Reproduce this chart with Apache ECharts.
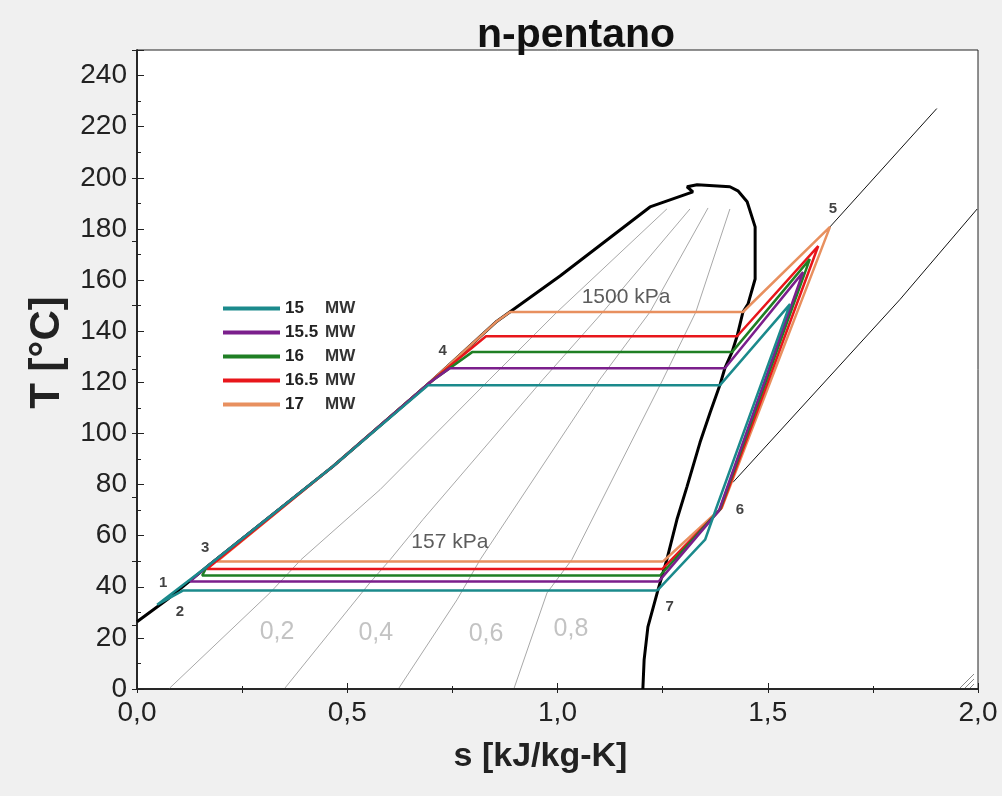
<!DOCTYPE html>
<html>
<head>
<meta charset="utf-8">
<script src="https://cdn.jsdelivr.net/npm/echarts@6/dist/echarts.min.js"></script>
<style>
  html, body { margin: 0; padding: 0; background: #f0f0f0; }
  #main { width: 1002px; height: 796px; }
</style>
</head>
<body>
<div id="main"></div>
<script>
// saturation dome (liquid side up to the top, then vapor side down)
const dome = [
  [0.000, 26.3], [0.071, 34.9], [0.166, 47.8], [0.466, 87.1], [0.697, 120.0],
  [0.856, 143.9], [1.006, 161.6], [1.220, 188.6], [1.322, 194.5], [1.308, 196.5],
  [1.332, 197.3], [1.410, 196.5], [1.429, 194.9], [1.451, 190.6], [1.470, 180.8],
  [1.470, 160.4], [1.453, 150.6], [1.441, 147.5], [1.427, 138.0], [1.415, 131.8],
  [1.398, 125.5], [1.386, 118.8], [1.363, 108.2], [1.339, 96.5], [1.308, 79.2],
  [1.284, 66.3], [1.260, 50.6], [1.239, 38.8], [1.215, 24.3], [1.206, 11.4], [1.203, 0]
]

// quality lines x = 0.2 .. 0.8
const q02 = [[0.078, 0.4], [0.316, 37.6], [0.390, 50.6], [0.578, 78.0], [0.839, 121.2], [0.999, 147.5], [1.260, 187.8]]
const q04 = [[0.352, 0.4], [0.554, 41.6], [0.602, 50.6], [0.680, 66.3], [0.966, 121.2], [1.108, 147.5], [1.315, 187.8]]
const q06 = [[0.623, 0.4], [0.761, 34.9], [0.816, 50.6], [1.101, 121.2], [1.220, 147.5], [1.358, 188.2]]
const q08 = [[0.897, 0.4], [0.975, 37.6], [1.034, 50.6], [1.251, 121.2], [1.329, 147.5], [1.410, 187.8]]

// isobars in the superheated region
const isoHigh = [[1.648, 180.8], [1.902, 227.1]]
const isoLow = [[1.417, 80.8], [1.815, 152.5], [1.998, 187.8]]

// ORC cycles
const c150 = [[1.237, 38.5], [0.109, 38.5], [0.048, 33.0], [0.166, 47.8], [0.466, 87.1], [0.692, 118.8],
  [1.386, 118.8], [1.553, 150.6], [1.379, 71.4], [1.351, 58.4], [1.237, 38.5]]
const c155 = [[1.241, 42.1], [0.126, 42.1], [0.166, 47.8], [0.466, 87.1], [0.697, 120.0], [0.744, 125.5],
  [1.398, 125.5], [1.584, 163.1], [1.384, 69.8], [1.241, 42.1]]
const c160 = [[1.244, 44.4], [0.155, 44.4], [0.166, 47.8], [0.466, 87.1], [0.697, 120.0], [0.797, 131.8],
  [1.415, 131.8], [1.600, 168.2], [1.386, 70.2], [1.244, 44.4]]
const c165 = [[1.249, 46.9], [0.166, 46.9], [0.466, 87.1], [0.697, 120.0], [0.830, 138.0],
  [1.427, 138.0], [1.620, 173.3], [1.389, 70.6], [1.249, 46.9]]
const c170 = [[1.251, 49.9], [0.190, 49.9], [0.466, 87.1], [0.697, 120.0], [0.856, 143.9], [0.887, 147.5],
  [1.441, 147.5], [1.648, 180.8], [1.391, 71.0], [1.251, 49.9]]

const cycleNames = ['15', '15.5', '16', '16.5', '17']
const cycleColors = ['#1b8a8c', '#7b1f8c', '#1f7f24', '#e8161b', '#e8905f']

// text in the plot
const pointLabels = [[0.062, 41.6, '1'], [0.102, 30.2, '2'], [0.162, 55.3, '3'], [0.727, 132.2, '4'],
  [1.655, 187.8, '5'], [1.434, 70.2, '6'], [1.267, 32.2, '7']]
const pressLabels = [[1.163, 153.3, '1500 kPa'], [0.744, 57.6, '157 kPa']]
const qualLabels = [[0.333, 22.4, '0,2'], [0.568, 22.0, '0,4'], [0.830, 21.6, '0,6'], [1.032, 23.5, '0,8']]

const font = "'Liberation Sans', Arial, sans-serif"
const chart = echarts.init(document.getElementById('main'))

function thin (name, data, color) {
  return {
    name: name, type: 'line', data: data, symbol: 'none', silent: true,
    lineStyle: { color: color, width: 1 }, z: 2
  }
}
function texts (data, size, weight, color) {
  return {
    type: 'scatter', data: data, symbolSize: 1, silent: true, z: 10,
    itemStyle: { color: 'rgba(0,0,0,0)' },
    label: {
      show: true, position: 'inside', fontFamily: font, fontSize: size,
      fontWeight: weight, color: color, formatter: p => p.value[2]
    }
  }
}

const cycles = [c150, c155, c160, c165, c170]
let series = [
  thin('q02', q02, '#a8a8a8'), thin('q04', q04, '#a8a8a8'),
  thin('q06', q06, '#a8a8a8'), thin('q08', q08, '#a8a8a8'),
  thin('isoHigh', isoHigh, '#111'), thin('isoLow', isoLow, '#111'),
  {
    name: 'dome', type: 'line', data: dome, symbol: 'none', silent: true,
    lineStyle: { color: '#000', width: 3 }, z: 3
  }
]
for (let i = cycles.length - 1; i >= 0; i--) {
  series.push({
    name: cycleNames[i] + ' MW', type: 'line', data: cycles[i], symbol: 'none',
    lineStyle: { color: cycleColors[i], width: 2.5 }, itemStyle: { color: cycleColors[i] }, z: 4 + (4 - i)
  })
}
series.push(texts(pointLabels, 15, 'bold', '#111'))
series.push(texts(pressLabels, 21, 'normal', '#333'))
series.push(texts(qualLabels, 25, 'normal', '#b4b4b4'))

const option = {
  backgroundColor: '#f0f0f0',
  animation: false,
  textStyle: { fontFamily: font },
  title: {
    text: 'n-pentano', left: 472, top: 10,
    textStyle: { fontFamily: font, fontSize: 41, fontWeight: 'bold', color: '#111' }
  },
  grid: {
    left: 137, right: 24, top: 50, bottom: 107, show: true,
    backgroundColor: '#fff', borderColor: '#222', borderWidth: 1
  },
  legend: {
    left: 218, top: 295, orient: 'vertical', icon: 'rect', itemWidth: 57, itemHeight: 4,
    itemGap: 7, selectedMode: false,
    data: cycleNames.map(n => n + ' MW'),
    formatter: n => '{v|' + n.split(' ')[0] + '}{u|MW}',
    textStyle: {
      fontFamily: font, fontSize: 17, fontWeight: 'bold', color: '#222',
      rich: {
        v: { width: 40, fontSize: 17, fontWeight: 'bold', color: '#222', fontFamily: font },
        u: { fontSize: 17, fontWeight: 'bold', color: '#333', fontFamily: font }
      }
    }
  },
  graphic: [
    { type: 'line', shape: { x1: 974, y1: 674, x2: 960, y2: 688 }, style: { stroke: '#888', lineWidth: 1 } },
    { type: 'line', shape: { x1: 974, y1: 679, x2: 965, y2: 688 }, style: { stroke: '#888', lineWidth: 1 } },
    { type: 'line', shape: { x1: 974, y1: 684, x2: 970, y2: 688 }, style: { stroke: '#888', lineWidth: 1 } }
  ],
  xAxis: [
    {
      type: 'value', min: 0, max: 2, interval: 0.5, position: 'bottom',
      axisLine: { show: true, lineStyle: { color: '#222', width: 1.5 } },
      axisTick: { inside: true, length: 6, lineStyle: { color: '#222' } },
      minorTick: { show: true, splitNumber: 2, length: 3, lineStyle: { color: '#222' } },
      splitLine: { show: false },
      axisLabel: {
        fontFamily: font, fontSize: 28, color: '#222', margin: 10,
        formatter: v => v.toFixed(1).replace('.', ',')
      },
      name: 's [kJ/kg-K]', nameLocation: 'middle', nameGap: 51,
      nameTextStyle: { fontFamily: font, fontSize: 34, fontWeight: 'bold', color: '#222', padding: [0, 34, 0, 0] }
    },
    {
      type: 'value', min: 0, max: 2, interval: 0.25, position: 'top',
      axisLine: { show: true, lineStyle: { color: '#222', width: 1.5 } },
      axisTick: { inside: true, length: 4, lineStyle: { color: '#222' } },
      axisLabel: { show: false }, splitLine: { show: false }
    }
  ],
  yAxis: [
    {
      type: 'value', min: 0, max: 250, interval: 20, position: 'left',
      axisLine: { show: true, lineStyle: { color: '#222', width: 1.5 } },
      axisTick: { inside: true, length: 7, lineStyle: { color: '#222' } },
      minorTick: { show: true, splitNumber: 2, length: 4, lineStyle: { color: '#222' } },
      splitLine: { show: false },
      axisLabel: {
        fontFamily: font, fontSize: 28, color: '#222', margin: 10,
        formatter: v => (v % 20 === 0 ? String(v) : '')
      },
      name: 'T [°C]', nameLocation: 'middle', nameGap: 69, nameRotate: 90,
      nameTextStyle: { fontFamily: font, fontSize: 42, fontWeight: 'bold', color: '#222', padding: [0, 0, 0, 34] }
    },
    {
      type: 'value', min: 0, max: 250, interval: 25, position: 'right',
      axisLine: { show: true, lineStyle: { color: '#222', width: 1.5 } },
      axisTick: { inside: true, length: 5, lineStyle: { color: '#222' } },
      axisLabel: { show: false }, splitLine: { show: false }
    }
  ],
  series: series
}
chart.setOption(option)
</script>
</body>
</html>
